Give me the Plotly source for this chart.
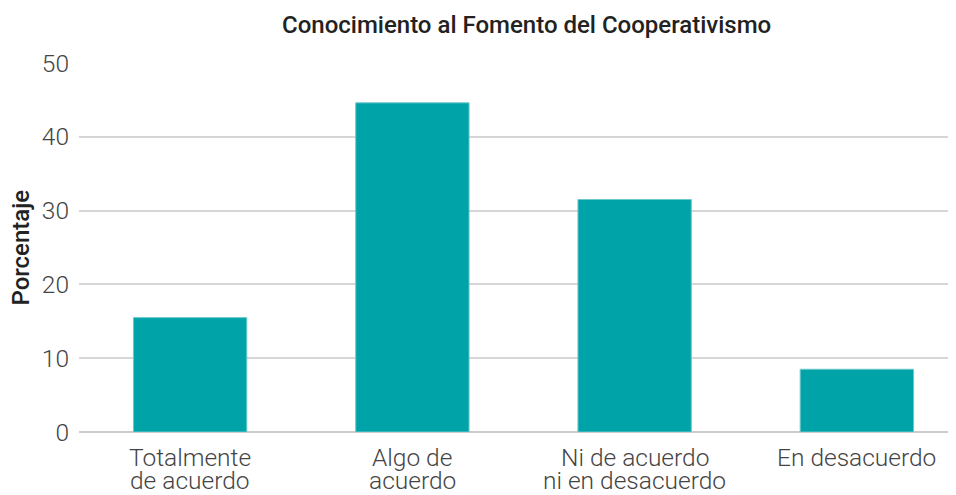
import plotly.graph_objects as go

cat_line1 = ["Totalmente", "Algo de", "Ni de acuerdo", "En desacuerdo"]
cat_line2 = ["de acuerdo", "acuerdo", "ni en desacuerdo", ""]
categories = [(a + " " + b).strip() for a, b in zip(cat_line1, cat_line2)]
values = [15.5, 44.6, 31.5, 8.5]
y_ticks = [0, 10, 20, 30, 40, 50]
title_text = "Conocimiento al Fomento del Cooperativismo"
y_title = "Porcentaje"

OFF = 8  # page body margin
W, H = 956 - OFF, 495 - OFF
L, R, T, B = 79 - OFF, 0, 63 - OFF, H - (431.7 - OFF)
plot_w = W - L - R
plot_h = H - T - B

label_font = dict(family="Roboto", size=24.5, color="#444444", weight=300)
bold_font = dict(family="Roboto", size=24, color="#222222", weight=500)

fig = go.Figure(go.Bar(
    x=list(range(len(categories))), y=values,
    hovertext=categories,
    marker=dict(color="#00A3A8", line=dict(color="#6cc9cc", width=1)),
    width=0.51,
))

annotations = [
    dict(text=title_text, xref="paper", x=(526 - OFF - L) / plot_w,
         yref="paper", y=1 + (T - (25 - OFF)) / plot_h,
         showarrow=False, xanchor="center", yanchor="middle",
         font=dict(family="Roboto", size=24, color="#222222", weight=500)),
    dict(text=y_title, xref="paper", x=(20 - OFF - L) / plot_w,
         yref="paper", y=0.5, textangle=-90,
         showarrow=False, xanchor="center", yanchor="middle", font=bold_font),
]
for i, (a, b) in enumerate(zip(cat_line1, cat_line2)):
    annotations.append(dict(text=a, x=i, xref="x", yref="paper", y=0, yshift=-25,
                            showarrow=False, xanchor="center", yanchor="middle",
                            font=label_font))
    if b:
        annotations.append(dict(text=b, x=i, xref="x", yref="paper", y=0, yshift=-48,
                                showarrow=False, xanchor="center", yanchor="middle",
                                font=label_font))

fig.update_layout(
    width=W, height=H,
    margin=dict(l=L, r=R, t=T, b=B),
    plot_bgcolor="white", paper_bgcolor="white",
    showlegend=False,
    font=dict(family="Roboto", color="#444444"),
    annotations=annotations,
)

fig.update_xaxes(
    type="linear", range=[-0.5, 3.446],
    showgrid=False, showline=False, zeroline=False, ticks="",
    showticklabels=False, automargin=False,
)
fig.update_yaxes(
    range=[0, 50], tickvals=y_ticks, automargin=False,
    showgrid=True, gridcolor="#d6d6d6", gridwidth=1.5,
    zeroline=True, zerolinecolor="#cccccc", zerolinewidth=1.5,
    ticks="", ticklabelstandoff=9,
    tickfont=label_font,
)

fig.write_html("out.html")
